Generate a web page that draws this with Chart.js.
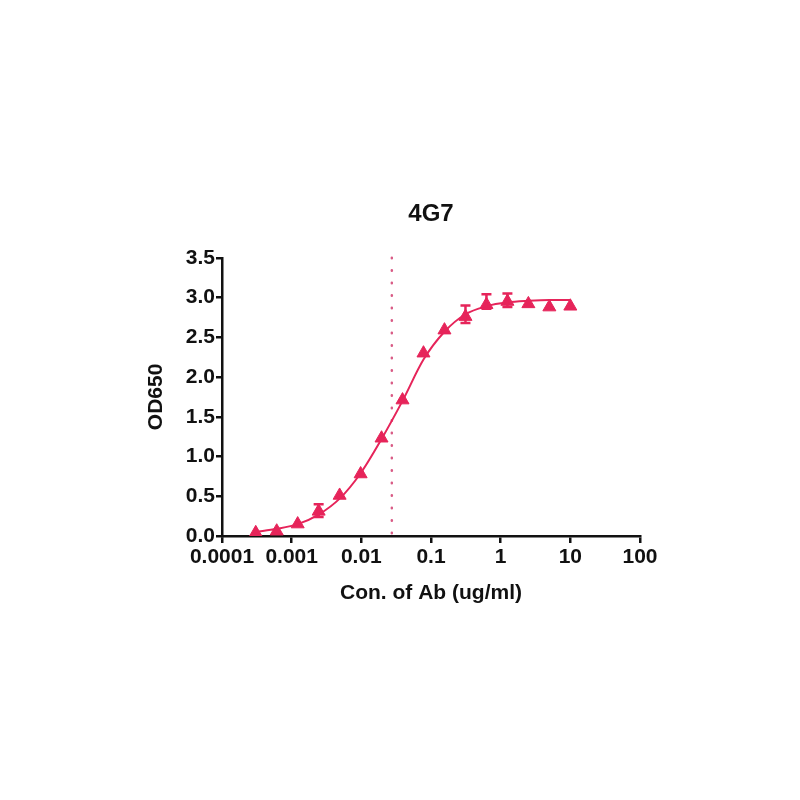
<!DOCTYPE html>
<html>
<head>
<meta charset="utf-8">
<script src="https://cdn.jsdelivr.net/npm/chart.js@4.4.1/dist/chart.umd.min.js"></script>
<style>
  html, body { margin: 0; padding: 0; background: #fff; }
  #wrap { width: 800px; height: 800px; }
</style>
</head>
<body>
<div id="wrap"><canvas id="elisa" width="800" height="800"></canvas></div>
<script>
// concentrations (ug/ml), 2-fold dilution series
var conc = [0.000305, 0.00061, 0.00122, 0.00244, 0.00488, 0.00977, 0.0195, 0.039,
            0.078, 0.156, 0.3125, 0.625, 1.25, 2.5, 5, 10];
// measured OD650 (mean)
var od = [0.04, 0.06, 0.15, 0.31, 0.51, 0.78, 1.23, 1.71,
          2.30, 2.59, 2.76, 2.91, 2.95, 2.92, 2.88, 2.89];
// error bars, null where no bar is visible
var errLow  = [null, null, null, 0.24, null, null, null, null,
               null, null, 2.68, 2.86, 2.88, null, null, null];
var errHigh = [null, null, null, 0.40, null, null, null, null,
               null, null, 2.90, 3.04, 3.05, null, null, null];
// fitted curve at the same concentrations
var fit = [0.05, 0.09, 0.15, 0.27, 0.47, 0.79, 1.22, 1.70,
           2.22, 2.57, 2.79, 2.89, 2.94, 2.96, 2.97, 2.97];
var ec50 = 0.0274;
var xTicks = [0.0001, 0.001, 0.01, 0.1, 1, 10, 100];
var xTickLabels = ["0.0001", "0.001", "0.01", "0.1", "1", "10", "100"];

var pink = "#e6245a";
var fontFam = "'Liberation Sans', Arial, Helvetica, sans-serif";

var errorBars = {
	id: 'errorBars',
	afterDatasetsDraw: function(chart) {
		var ctx = chart.ctx, xs = chart.scales.x, ys = chart.scales.y;
		ctx.save();
		ctx.strokeStyle = pink;
		ctx.lineWidth = 2.5;
		for (var i = 0; i < conc.length; i++) {
			if (errLow[i] == null) continue;
			var px = xs.getPixelForValue(conc[i]);
			var y1 = ys.getPixelForValue(errLow[i]);
			var y2 = ys.getPixelForValue(errHigh[i]);
			ctx.beginPath();
			ctx.moveTo(px, y1); ctx.lineTo(px, y2);
			ctx.moveTo(px - 5, y1); ctx.lineTo(px + 5, y1);
			ctx.moveTo(px - 5, y2); ctx.lineTo(px + 5, y2);
			ctx.stroke();
		}
		ctx.restore();
	}
};

var ecLine = {
	id: 'ecLine',
	beforeDatasetsDraw: function(chart) {
		var ctx = chart.ctx, a = chart.chartArea;
		var px = chart.scales.x.getPixelForValue(ec50);
		ctx.save();
		ctx.strokeStyle = "#d95c86";
		ctx.lineWidth = 2.5;
		ctx.lineCap = 'round';
		ctx.setLineDash([0.5, 12]);
		ctx.beginPath();
		ctx.moveTo(px, a.top);
		ctx.lineTo(px, a.bottom);
		ctx.stroke();
		ctx.restore();
	}
};

var points = conc.map(function(c, i) { return {x: c, y: od[i]}; });
var curve = conc.map(function(c, i) { return {x: c, y: fit[i]}; });

new Chart(document.getElementById("elisa"), {
	type: 'scatter',
	data: {
		datasets: [{
			label: 'fit',
			data: curve,
			showLine: true,
			borderColor: pink,
			borderWidth: 2,
			pointRadius: 0,
			cubicInterpolationMode: 'monotone',
			order: 2
		}, {
			label: '4G7',
			data: points,
			showLine: false,
			pointStyle: 'triangle',
			pointRadius: 7.5,
			backgroundColor: pink,
			borderColor: pink,
			borderWidth: 1,
			order: 1
		}]
	},
	options: {
		responsive: false,
		animation: false,
		layout: { padding: { left: 140, right: 160, top: 180, bottom: 184 } },
		plugins: {
			legend: { display: false },
			tooltip: { enabled: false },
			title: {
				display: true,
				text: '4G7',
				fullSize: false,
				color: '#111',
				font: { family: fontFam, size: 24, weight: 'bold' },
				padding: { top: 20, bottom: 29 }
			}
		},
		scales: {
			x: {
				type: 'logarithmic',
				min: 0.0001,
				max: 100,
				afterBuildTicks: function(scale) {
					scale.ticks = xTicks.map(function(v) { return {value: v}; });
				},
				afterFit: function(scale) { scale.height = 80; },
				ticks: {
					color: '#111',
					padding: 2,
					maxRotation: 0,
					autoSkip: false,
					font: { family: fontFam, size: 21, weight: 'bold' },
					callback: function(v) {
						var k = xTicks.indexOf(v);
						return k >= 0 ? xTickLabels[k] : '';
					}
				},
				grid: { drawOnChartArea: false, drawTicks: true, tickLength: 7, color: '#111', lineWidth: 2.5 },
				border: { display: true, color: '#111', width: 2.5 },
				title: {
					display: true,
					text: 'Con. of Ab (ug/ml)',
					color: '#111',
					font: { family: fontFam, size: 21, weight: 'bold' },
					padding: { top: 0, bottom: 10 }
				}
			},
			y: {
				min: 0,
				max: 3.5,
				afterFit: function(scale) { scale.width = 82; },
				ticks: {
					stepSize: 0.5,
					color: '#111',
					padding: 1,
					font: { family: fontFam, size: 21, weight: 'bold' },
					callback: function(v) { return v.toFixed(1); }
				},
				grid: { drawOnChartArea: false, drawTicks: true, tickLength: 6, color: '#111', lineWidth: 2.5 },
				border: { display: true, color: '#111', width: 2.5 },
				title: {
					display: true,
					text: 'OD650',
					color: '#111',
					font: { family: fontFam, size: 21, weight: 'bold' },
					padding: { top: 4, bottom: 0 }
				}
			}
		}
	},
	plugins: [ecLine, errorBars]
});
</script>
</body>
</html>
